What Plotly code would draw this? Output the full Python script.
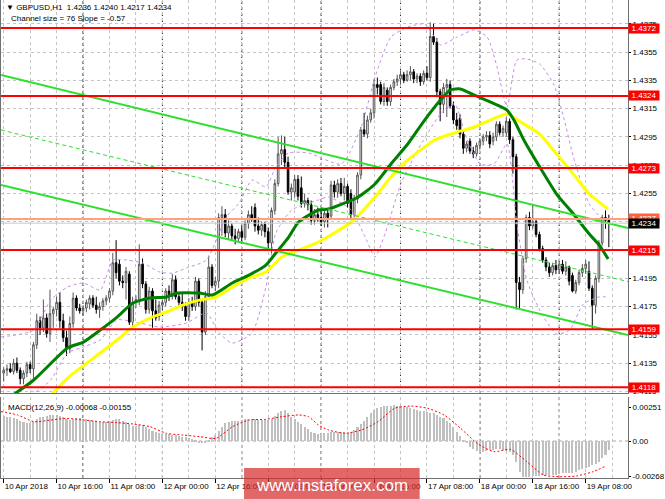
import plotly.graph_objects as go

# ---------------- data ----------------
bar_index = list(range(184))

opens = [
    1.4128, 1.4130, 1.4131, 1.4129, 1.4135, 1.4130, 1.4124, 1.4128, 1.4134, 1.4131,
    1.4148, 1.4165, 1.4160, 1.4167, 1.4156, 1.4170, 1.4173, 1.4178, 1.4165, 1.4153,
    1.4145, 1.4163, 1.4181, 1.4174, 1.4172, 1.4174, 1.4177, 1.4181, 1.4176, 1.4173,
    1.4175, 1.4179, 1.4181, 1.4186, 1.4206, 1.4205, 1.4193, 1.4192, 1.4198, 1.4164,
    1.4178, 1.4180, 1.4205, 1.4191, 1.4173, 1.4186, 1.4172, 1.4168, 1.4176, 1.4178,
    1.4186, 1.4182, 1.4194, 1.4182, 1.4178, 1.4175, 1.4168, 1.4178, 1.4175, 1.4193,
    1.4178, 1.4157, 1.4182, 1.4203, 1.4190, 1.4193, 1.4238, 1.4240, 1.4227, 1.4232,
    1.4225, 1.4223, 1.4228, 1.4224, 1.4234, 1.4240, 1.4245, 1.4232, 1.4229, 1.4233,
    1.4228, 1.4220, 1.4243, 1.4262, 1.4283, 1.4286, 1.4277, 1.4256, 1.4256, 1.4265,
    1.4259, 1.4248, 1.4250, 1.4247, 1.4236, 1.4240, 1.4238, 1.4235, 1.4241, 1.4239,
    1.4261, 1.4256, 1.4262, 1.4255, 1.4260, 1.4255, 1.4240, 1.4251, 1.4268, 1.4300,
    1.4297, 1.4307, 1.4312, 1.4332, 1.4332, 1.4320, 1.4328, 1.4320, 1.4330, 1.4334,
    1.4336, 1.4339, 1.4335, 1.4339, 1.4341, 1.4336, 1.4338, 1.4334, 1.4340, 1.4337,
    1.4366, 1.4362, 1.4327, 1.4318, 1.4330, 1.4332, 1.4317, 1.4307, 1.4308, 1.4297,
    1.4287, 1.4292, 1.4285, 1.4283, 1.4289, 1.4292, 1.4295, 1.4296, 1.4292, 1.4295,
    1.4304, 1.4298, 1.4298, 1.4306, 1.4293, 1.4281, 1.4192, 1.4187, 1.4209, 1.4238,
    1.4232, 1.4235, 1.4226, 1.4216, 1.4208, 1.4203, 1.4199, 1.4204, 1.4201, 1.4205,
    1.4200, 1.4203, 1.4197, 1.4186, 1.4192, 1.4199, 1.4202, 1.4200, 1.4188, 1.4176,
    1.4195, 1.4220, 1.4238, 1.4236,
]
highs = [
    1.4132, 1.4134, 1.4135, 1.4138, 1.4139, 1.4132, 1.4130, 1.4136, 1.4136, 1.4150,
    1.4170, 1.4168, 1.4180, 1.4170, 1.4187, 1.4175, 1.4182, 1.4185, 1.4170, 1.4158,
    1.4168, 1.4185, 1.4183, 1.4177, 1.4176, 1.4180, 1.4183, 1.4183, 1.4182, 1.4178,
    1.4181, 1.4183, 1.4188, 1.4213, 1.4222, 1.4208, 1.4197, 1.4203, 1.4200, 1.4182,
    1.4183, 1.4219, 1.4209, 1.4193, 1.4189, 1.4188, 1.4180, 1.4179, 1.4180, 1.4188,
    1.4190, 1.4198, 1.4197, 1.4185, 1.4184, 1.4178, 1.4181, 1.4182, 1.4196, 1.4195,
    1.4180, 1.4186, 1.4211, 1.4205, 1.4196, 1.4241, 1.4246, 1.4244, 1.4236, 1.4234,
    1.4230, 1.4230, 1.4232, 1.4236, 1.4243, 1.4246, 1.4248, 1.4238, 1.4235, 1.4235,
    1.4231, 1.4245, 1.4265, 1.4295, 1.4296, 1.4295, 1.4281, 1.4262, 1.4268, 1.4268,
    1.4267, 1.4255, 1.4252, 1.4250, 1.4244, 1.4245, 1.4243, 1.4243, 1.4244, 1.4264,
    1.4264, 1.4265, 1.4266, 1.4266, 1.4262, 1.4258, 1.4254, 1.4270, 1.4302, 1.4312,
    1.4310, 1.4315, 1.4336, 1.4337, 1.4334, 1.4333, 1.4330, 1.4332, 1.4336, 1.4339,
    1.4342, 1.4341, 1.4342, 1.4345, 1.4343, 1.4340, 1.4340, 1.4342, 1.4345, 1.4376,
    1.4375, 1.4365, 1.4329, 1.4333, 1.4336, 1.4335, 1.4320, 1.4312, 1.4311, 1.4299,
    1.4292, 1.4294, 1.4288, 1.4291, 1.4294, 1.4297, 1.4299, 1.4299, 1.4298, 1.4306,
    1.4306, 1.4303, 1.4309, 1.4308, 1.4295, 1.4283, 1.4196, 1.4211, 1.4240, 1.4242,
    1.4247, 1.4237, 1.4228, 1.4218, 1.4210, 1.4206, 1.4206, 1.4208, 1.4207, 1.4208,
    1.4207, 1.4204, 1.4199, 1.4194, 1.4201, 1.4205, 1.4208, 1.4207, 1.4190, 1.4197,
    1.4222, 1.4240, 1.4243, 1.4240,
]
lows = [
    1.4122, 1.4126, 1.4128, 1.4127, 1.4128, 1.4120, 1.4120, 1.4125, 1.4128, 1.4122,
    1.4145, 1.4155, 1.4157, 1.4153, 1.4150, 1.4160, 1.4168, 1.4160, 1.4150, 1.4140,
    1.4142, 1.4160, 1.4172, 1.4170, 1.4169, 1.4171, 1.4173, 1.4174, 1.4170, 1.4167,
    1.4172, 1.4176, 1.4178, 1.4183, 1.4195, 1.4190, 1.4188, 1.4180, 1.4162, 1.4160,
    1.4174, 1.4176, 1.4188, 1.4170, 1.4170, 1.4160, 1.4165, 1.4165, 1.4172, 1.4175,
    1.4179, 1.4180, 1.4180, 1.4175, 1.4172, 1.4165, 1.4165, 1.4172, 1.4172, 1.4175,
    1.4144, 1.4155, 1.4180, 1.4188, 1.4186, 1.4188, 1.4225, 1.4224, 1.4222, 1.4222,
    1.4219, 1.4220, 1.4221, 1.4222, 1.4230, 1.4235, 1.4228, 1.4226, 1.4225, 1.4224,
    1.4215, 1.4212, 1.4240, 1.4260, 1.4275, 1.4273, 1.4254, 1.4250, 1.4252, 1.4250,
    1.4245, 1.4245, 1.4243, 1.4233, 1.4233, 1.4235, 1.4232, 1.4231, 1.4231, 1.4237,
    1.4252, 1.4252, 1.4253, 1.4250, 1.4245, 1.4236, 1.4237, 1.4248, 1.4265, 1.4295,
    1.4294, 1.4305, 1.4308, 1.4325, 1.4318, 1.4317, 1.4317, 1.4317, 1.4328, 1.4331,
    1.4332, 1.4333, 1.4334, 1.4335, 1.4333, 1.4333, 1.4331, 1.4332, 1.4335, 1.4334,
    1.4360, 1.4323, 1.4306, 1.4312, 1.4309, 1.4315, 1.4304, 1.4300, 1.4294, 1.4283,
    1.4284, 1.4283, 1.4280, 1.4281, 1.4286, 1.4289, 1.4292, 1.4287, 1.4289, 1.4292,
    1.4296, 1.4295, 1.4295, 1.4290, 1.4269, 1.4173, 1.4174, 1.4184, 1.4206, 1.4229,
    1.4230, 1.4224, 1.4214, 1.4206, 1.4200, 1.4196, 1.4197, 1.4198, 1.4198, 1.4198,
    1.4197, 1.4190, 1.4185, 1.4184, 1.4190, 1.4196, 1.4198, 1.4186, 1.4159, 1.4170,
    1.4192, 1.4218, 1.4230, 1.4217,
]
closes = [
    1.4130, 1.4131, 1.4129, 1.4135, 1.4130, 1.4124, 1.4128, 1.4134, 1.4131, 1.4148,
    1.4165, 1.4160, 1.4167, 1.4156, 1.4170, 1.4173, 1.4178, 1.4165, 1.4153, 1.4145,
    1.4163, 1.4181, 1.4174, 1.4172, 1.4174, 1.4178, 1.4181, 1.4176, 1.4173, 1.4175,
    1.4179, 1.4181, 1.4186, 1.4206, 1.4199, 1.4193, 1.4192, 1.4200, 1.4164, 1.4178,
    1.4180, 1.4205, 1.4191, 1.4173, 1.4186, 1.4172, 1.4167, 1.4176, 1.4178, 1.4186,
    1.4182, 1.4194, 1.4182, 1.4178, 1.4175, 1.4168, 1.4178, 1.4175, 1.4193, 1.4178,
    1.4157, 1.4182, 1.4203, 1.4190, 1.4193, 1.4238, 1.4240, 1.4227, 1.4232, 1.4225,
    1.4223, 1.4228, 1.4224, 1.4234, 1.4240, 1.4237, 1.4232, 1.4229, 1.4233, 1.4228,
    1.4220, 1.4243, 1.4262, 1.4283, 1.4286, 1.4277, 1.4256, 1.4259, 1.4265, 1.4253,
    1.4248, 1.4250, 1.4247, 1.4236, 1.4240, 1.4238, 1.4235, 1.4241, 1.4238, 1.4261,
    1.4256, 1.4262, 1.4255, 1.4260, 1.4248, 1.4240, 1.4251, 1.4268, 1.4300, 1.4297,
    1.4307, 1.4312, 1.4332, 1.4330, 1.4320, 1.4330, 1.4320, 1.4330, 1.4334, 1.4336,
    1.4339, 1.4335, 1.4339, 1.4341, 1.4336, 1.4338, 1.4334, 1.4340, 1.4337, 1.4366,
    1.4362, 1.4327, 1.4318, 1.4330, 1.4332, 1.4317, 1.4307, 1.4303, 1.4297, 1.4287,
    1.4290, 1.4285, 1.4283, 1.4289, 1.4292, 1.4295, 1.4296, 1.4290, 1.4295, 1.4304,
    1.4298, 1.4301, 1.4306, 1.4293, 1.4281, 1.4192, 1.4187, 1.4209, 1.4238, 1.4232,
    1.4235, 1.4226, 1.4216, 1.4208, 1.4203, 1.4199, 1.4204, 1.4201, 1.4205, 1.4200,
    1.4203, 1.4193, 1.4186, 1.4192, 1.4199, 1.4202, 1.4205, 1.4188, 1.4176, 1.4195,
    1.4220, 1.4238, 1.4236, 1.4234,
]

macd_hist = [
    0.00188, 0.00183, 0.00178, 0.00170, 0.00163, 0.00153, 0.00145, 0.00138, 0.00133, 0.00145,
    0.00163, 0.00178, 0.00183, 0.00188, 0.00193, 0.00196, 0.00196, 0.00188, 0.00178, 0.00163,
    0.00158, 0.00163, 0.00170, 0.00170, 0.00168, 0.00163, 0.00158, 0.00153, 0.00148, 0.00143,
    0.00143, 0.00143, 0.00148, 0.00158, 0.00163, 0.00163, 0.00153, 0.00145, 0.00128, 0.00113,
    0.00113, 0.00118, 0.00118, 0.00103, 0.00088, 0.00078, 0.00068, 0.00058, 0.00053, 0.00050,
    0.00050, 0.00048, 0.00043, 0.00038, 0.00033, 0.00028, 0.00020, 0.00013, 0.00003, -0.00008,
    -0.00013, -0.00008, 0.00008, 0.00028, 0.00048, 0.00078, 0.00108, 0.00133, 0.00143, 0.00150,
    0.00153, 0.00153, 0.00158, 0.00163, 0.00168, 0.00168, 0.00163, 0.00158, 0.00158, 0.00158,
    0.00158, 0.00168, 0.00188, 0.00213, 0.00228, 0.00233, 0.00213, 0.00183, 0.00163, 0.00143,
    0.00128, 0.00108, 0.00088, 0.00070, 0.00058, 0.00053, 0.00053, 0.00058, 0.00063, 0.00070,
    0.00070, 0.00070, 0.00068, 0.00065, 0.00063, 0.00065, 0.00083, 0.00103, 0.00128, 0.00153,
    0.00178, 0.00208, 0.00233, 0.00246, 0.00258, 0.00263, 0.00266, 0.00266, 0.00268, 0.00266,
    0.00263, 0.00258, 0.00253, 0.00246, 0.00238, 0.00233, 0.00228, 0.00226, 0.00221, 0.00213,
    0.00208, 0.00196, 0.00183, 0.00170, 0.00153, 0.00133, 0.00103, 0.00070, 0.00038, 0.00008,
    -0.00018, -0.00043, -0.00063, -0.00073, -0.00080, -0.00080, -0.00075, -0.00068, -0.00068, -0.00063,
    -0.00063, -0.00068, -0.00073, -0.00080, -0.00105, -0.00155, -0.00231, -0.00268, -0.00273, -0.00268,
    -0.00263, -0.00263, -0.00263, -0.00258, -0.00256, -0.00256, -0.00256, -0.00253, -0.00248, -0.00243,
    -0.00243, -0.00238, -0.00238, -0.00231, -0.00218, -0.00213, -0.00206, -0.00193, -0.00181, -0.00173,
    -0.00155, -0.00130, -0.00105, -0.00068,
]

signal_x = [-0.8, 4.2, 9.2, 14.2, 19.2, 24.2, 29.2, 34.2, 39.2, 44.2, 49.2, 54.2, 59.2,
            64.2, 69.2, 74.2, 79.2, 84.2, 89.2, 92.2, 95.2, 98.2, 103.2, 108.2, 113.2,
            118.2, 123.2, 128.2, 133.2, 138.2, 143.2, 148.2, 153.2, 158.2, 163.2, 168.2,
            173.2, 178.2, 181.7]
signal_y = [0.00221, 0.00196, 0.00145, 0.00158, 0.00170, 0.00158, 0.00145, 0.00138, 0.00128,
            0.00108, 0.00058, 0.00045, 0.00033, 0.00020, 0.00108, 0.00158, 0.00163, 0.00183,
            0.00196, 0.00183, 0.00120, 0.00083, 0.00058, 0.00083, 0.00145, 0.00246, 0.00263,
            0.00246, 0.00196, 0.00095, -0.00018, -0.00080, -0.00063, -0.00155, -0.00256,
            -0.00268, -0.00263, -0.00231, -0.00193]

ma_green_x = [-0.8, 2.8, 9.1, 19.3, 24.1, 29.2, 34.3, 39.1, 44.2, 49.3, 52.3, 59.2, 63.1,
              69.1, 74.2, 79.3, 82.3, 86.2, 89.2, 95.2, 98.2, 107.2, 112.3, 117.1, 122.2,
              127.3, 132.1, 135.1, 138.1, 142.3, 147.1, 152.2, 154.3, 157.3, 162.1, 167.2,
              172.3, 177.1, 180.1, 182.8]
ma_green_y = [1.4107, 1.41125, 1.41231, 1.41457, 1.41499, 1.41584, 1.41676, 1.41775, 1.41811,
              1.41818, 1.41846, 1.41846, 1.41832, 1.41917, 1.41973, 1.42044, 1.42129, 1.42242,
              1.42348, 1.42433, 1.42440, 1.42525, 1.42617, 1.42758, 1.42900, 1.43069, 1.43211,
              1.43282, 1.43289, 1.43246, 1.43197, 1.43140, 1.43069, 1.42928, 1.42737, 1.42546,
              1.42405, 1.42263, 1.42185, 1.42086]

ma_yellow_x = [9.1, 14.2, 19.3, 29.2, 34.3, 39.1, 44.2, 49.3, 54.1, 59.2, 64.3, 69.1, 74.2,
               79.3, 84.1, 89.2, 95.2, 105.1, 112.3, 117.1, 122.2, 127.3, 130.3, 137.2,
               142.3, 147.1, 152.2, 157.3, 162.1, 167.2, 172.3, 177.1, 180.1, 182.8]
ma_yellow_y = [1.4105, 1.41125, 1.41245, 1.41422, 1.41514, 1.41605, 1.41669, 1.41712, 1.41761,
               1.41796, 1.41818, 1.41888, 1.41952, 1.41994, 1.42101, 1.42150, 1.42207, 1.42348,
               1.42525, 1.42666, 1.42787, 1.42878, 1.42928, 1.42985, 1.43020, 1.43069, 1.43112,
               1.43041, 1.42970, 1.42829, 1.42687, 1.42546, 1.42489, 1.42440]

bb_upper_x = [-0.8, 9.1, 14.2, 19.3, 24.1, 29.2, 33.1, 37.3, 42.1, 47.2, 51.1, 55.3, 61.3,
              67.3, 71.2, 75.1, 79.3, 82.3, 86.2, 92.2, 102.1, 108.1, 112.3, 117.1, 122.2,
              127.3, 130.3, 132.1, 137.2, 142.3, 146.2, 149.2, 152.2, 155.2, 158.2, 162.1,
              166.3, 169.3, 172.3, 177.1, 181.3]
bb_upper_y = [1.41535, 1.41584, 1.41796, 1.41888, 1.41917, 1.41867, 1.42079, 1.42079, 1.42058,
              1.41994, 1.41987, 1.42023, 1.42079, 1.42383, 1.42482, 1.42645, 1.42596, 1.42737,
              1.42836, 1.42836, 1.42758, 1.43020, 1.43373, 1.43656, 1.43727, 1.43748, 1.43656,
              1.43600, 1.43656, 1.43706, 1.43656, 1.43444, 1.43161, 1.43494, 1.43501, 1.43465,
              1.43324, 1.43091, 1.42808, 1.42475, 1.42362]

bb_lower_x = [-0.8, 9.1, 14.2, 19.3, 24.1, 29.2, 34.3, 41.2, 47.2, 55.3, 61.3, 65.2, 69.1,
              75.1, 79.3, 82.3, 87.1, 95.2, 98.2, 105.1, 109.3, 112.3, 115.3, 120.1, 125.2,
              132.1, 136.3, 140.2, 144.1, 148.3, 152.2, 155.2, 158.2, 162.1, 167.2, 171.1,
              175.3, 180.1, 182.8]
bb_lower_y = [1.4110, 1.41139, 1.41231, 1.41422, 1.41464, 1.41514, 1.41655, 1.41634, 1.41605,
              1.41634, 1.41705, 1.41563, 1.41492, 1.41563, 1.41888, 1.42270, 1.42433, 1.42504,
              1.42525, 1.42433, 1.42242, 1.42101, 1.42263, 1.42617, 1.42857, 1.43112, 1.43183,
              1.42928, 1.42758, 1.42758, 1.42900, 1.42334, 1.41938, 1.41726, 1.41556, 1.41584,
              1.41768, 1.41818, 1.41818]

channel_x = [-0.81, 188.8]
channel_upper = [1.43388, 1.42306]
channel_mid = [1.42999, 1.41927]
channel_lower = [1.42610, 1.41549]

levels = [1.4372, 1.4324, 1.4273, 1.4215, 1.4159, 1.4118]
ask_price = 1.4237
bid_price = 1.4234

price_ticks = [1.4115, 1.4135, 1.4155, 1.4175, 1.4195, 1.4215, 1.4235, 1.4255, 1.4275,
               1.4295, 1.4315, 1.4335, 1.4355, 1.4375]
macd_ticks = [0.00251, 0.0, -0.00268]
macd_tick_text = ["0.00251", "0.00", "-0.00268"]

time_tick_bars = [0, 16, 32, 48, 64, 80, 96, 112, 128, 144, 160, 176]
time_tick_labels = ["10 Apr 2018", "10 Apr 16:00", "11 Apr 08:00", "12 Apr 00:00",
                    "12 Apr 16:00", "13 Apr 08:00", "16 Apr 00:00", "16 Apr 16:00",
                    "17 Apr 08:00", "18 Apr 00:00", "18 Apr 16:00", "19 Apr 08:00"]
grid_bars = [0, 8, 16, 24, 32, 40, 48, 56, 64, 72, 80, 88, 96, 104, 112, 120, 128, 136,
             144, 152, 160, 168, 176, 184]
day_separators = [24, 48, 72, 96, 120, 144, 168]

header_line1 = "\u25bc GBPUSD,H1  1.4236 1.4240 1.4217 1.4234"
header_line2 = "Channel size = 76 Slope = -0.57"
macd_label = "MACD(12,26,9) -0.00068 -0.00155"
watermark = "www.instaforex.com"

# ---------------- layout constants ----------------
W, H = 665, 499
PLOT_W, PLOT_H = 632, 478
FONT = "Liberation Sans"
GRID = "#c4c4c4"


def px_x(px):
    return px / PLOT_W


def px_y(py):
    return (PLOT_H - py) / PLOT_H


fig = go.Figure()

fig.add_trace(go.Candlestick(
    x=bar_index, open=opens, high=highs, low=lows, close=closes,
    xaxis="x", yaxis="y",
    increasing=dict(line=dict(color="#555555", width=1), fillcolor="white"),
    decreasing=dict(line=dict(color="#000000", width=1), fillcolor="black"),
    whiskerwidth=0, showlegend=False, hoverinfo="skip",
))

fig.add_trace(go.Scatter(x=bb_upper_x, y=bb_upper_y, mode="lines", xaxis="x", yaxis="y",
                         line=dict(color="#c98be8", width=1, dash="3px,3px", shape="spline",
                                   smoothing=0.6), showlegend=False, hoverinfo="skip"))
fig.add_trace(go.Scatter(x=bb_lower_x, y=bb_lower_y, mode="lines", xaxis="x", yaxis="y",
                         line=dict(color="#c98be8", width=1, dash="3px,3px", shape="spline",
                                   smoothing=0.6), showlegend=False, hoverinfo="skip"))

fig.add_trace(go.Scatter(x=ma_yellow_x, y=ma_yellow_y, mode="lines", xaxis="x", yaxis="y",
                         line=dict(color="#ffff00", width=3, shape="spline", smoothing=0.6),
                         showlegend=False, hoverinfo="skip"))
fig.add_trace(go.Scatter(x=ma_green_x, y=ma_green_y, mode="lines", xaxis="x", yaxis="y",
                         line=dict(color="#008000", width=3, shape="spline", smoothing=0.6),
                         showlegend=False, hoverinfo="skip"))

for ys, dash, width in [(channel_upper, "solid", 2), (channel_lower, "solid", 2),
                        (channel_mid, "4px,3px", 1)]:
    fig.add_trace(go.Scatter(x=channel_x, y=ys, mode="lines", xaxis="x", yaxis="y",
                             line=dict(color="#2ee02e", width=width, dash=dash),
                             showlegend=False, hoverinfo="skip"))

fig.add_trace(go.Bar(x=bar_index, y=macd_hist, xaxis="x2", yaxis="y2", width=0.62,
                     marker=dict(color="#c0c0c0", line=dict(width=0)),
                     showlegend=False, hoverinfo="skip"))
fig.add_trace(go.Scatter(x=signal_x, y=signal_y, mode="lines", xaxis="x2", yaxis="y2",
                         line=dict(color="#ff0000", width=1, dash="2px,2px", shape="spline",
                                   smoothing=0.6), showlegend=False, hoverinfo="skip"))

shapes = []
for d in day_separators:
    shapes.append(dict(type="line", xref="x", yref="paper", x0=d, x1=d, y0=0, y1=1,
                       line=dict(color="#202020", width=1, dash="3px,3px"), layer="between"))
shapes.append(dict(type="line", xref="paper", yref="y2", x0=0, x1=1, y0=0, y1=0,
                   line=dict(color="#a8a8a8", width=1, dash="3px,3px"), layer="between"))
shapes.append(dict(type="line", xref="paper", yref="y", x0=0, x1=1, y0=ask_price, y1=ask_price,
                   line=dict(color="#ffa080", width=2)))
shapes.append(dict(type="line", xref="paper", yref="y", x0=0, x1=1, y0=bid_price, y1=bid_price,
                   line=dict(color="#c8c8c8", width=1)))
for lv in levels:
    shapes.append(dict(type="line", xref="paper", yref="y", x0=0, x1=1, y0=lv, y1=lv,
                       line=dict(color="#ff0000", width=2)))
# watermark box
shapes.append(dict(type="rect", xref="paper", yref="paper",
                   x0=px_x(245), x1=px_x(422), y0=px_y(499), y1=px_y(468),
                   fillcolor="rgba(215,45,45,0.72)", line=dict(width=0), layer="above"))

label_font = dict(family=FONT, size=8, color="white")
annotations = []
for lv in levels:
    annotations.append(dict(xref="paper", yref="y", x=1, y=lv, xanchor="left", yanchor="middle",
                            xshift=0, text=f"{lv:.4f}", showarrow=False, bgcolor="#ff0000",
                            font=label_font, width=30, height=9,
                            borderpad=0, align="center"))
annotations.append(dict(xref="paper", yref="y", x=1, y=ask_price, xanchor="left",
                        yanchor="middle", xshift=0, text=f"{ask_price:.4f}", showarrow=False,
                        bgcolor="#ff6040", font=label_font, width=30, height=9,
                        borderpad=0, align="center"))
annotations.append(dict(xref="paper", yref="y", x=1, y=bid_price, xanchor="left",
                        yanchor="middle", xshift=0, text=f"{bid_price:.4f}", showarrow=False,
                        bgcolor="#000000", font=label_font, width=30, height=9,
                        borderpad=0, align="center"))
annotations.append(dict(xref="paper", yref="paper", x=px_x(3), y=px_y(7.5), xanchor="left",
                        yanchor="middle", text=header_line1, showarrow=False,
                        font=dict(family=FONT, size=8, color="black")))
annotations.append(dict(xref="paper", yref="paper", x=px_x(8), y=px_y(18), xanchor="left",
                        yanchor="middle", text=header_line2, showarrow=False,
                        font=dict(family=FONT, size=8, color="black")))
annotations.append(dict(xref="paper", yref="paper", x=px_x(5), y=px_y(407), xanchor="left",
                        yanchor="middle", text=macd_label, showarrow=False,
                        font=dict(family=FONT, size=8, color="black")))
annotations.append(dict(xref="paper", yref="paper", x=px_x(333.5), y=px_y(485), xanchor="center",
                        yanchor="middle", text=watermark, showarrow=False,
                        font=dict(family=FONT, size=17, color="white")))

axis_font = dict(family=FONT, size=8, color="black")

fig.update_layout(
    width=W, height=H,
    margin=dict(l=0, r=W - PLOT_W, t=0, b=H - PLOT_H),
    paper_bgcolor="white", plot_bgcolor="white",
    showlegend=False,
    bargap=0,
    xaxis=dict(domain=[0, 1], anchor="y", range=[-0.81, 188.8], tickmode="array",
               tickvals=grid_bars, showticklabels=False, ticks="", showgrid=True,
               gridcolor=GRID, griddash="3px,3px", gridwidth=1, zeroline=False,
               showline=True, linecolor="#707070", linewidth=1,
               rangeslider=dict(visible=False), fixedrange=True),
    yaxis=dict(domain=[px_y(393), 1], anchor="x", side="right", range=[1.41139, 1.43918],
               tickmode="array", tickvals=price_ticks, tickformat=".4f", ticks="outside",
               ticklen=2, tickcolor="#000000", tickfont=axis_font, ticklabelstandoff=0,
               showgrid=True, gridcolor=GRID, griddash="3px,3px", zeroline=False,
               showline=True, linecolor="#707070", linewidth=1, mirror=True,
               fixedrange=True),
    xaxis2=dict(domain=[0, 1], anchor="y2", range=[-0.81, 188.8], tickmode="array",
                tickvals=time_tick_bars, ticktext=time_tick_labels, ticks="outside",
                ticklen=4, tickcolor="#000000", ticklabelposition="outside right",
                tickangle=0, tickfont=axis_font, showgrid=True, gridcolor=GRID,
                griddash="3px,3px",
                minor=dict(tickmode="array", tickvals=grid_bars, showgrid=True,
                           gridcolor=GRID, griddash="3px,3px", ticks=""),
                zeroline=False, showline=True, linecolor="#707070", linewidth=1,
                fixedrange=True),
    yaxis2=dict(domain=[0, px_y(397)], anchor="x2", side="right", range=[-0.00278, 0.00331],
                tickmode="array", tickvals=macd_ticks, ticktext=macd_tick_text,
                ticks="outside", ticklen=2, tickcolor="#000000", tickfont=axis_font,
                ticklabelstandoff=0, showgrid=False, zeroline=False, showline=True,
                linecolor="#707070", linewidth=1, mirror=True, fixedrange=True),
    shapes=shapes,
    annotations=annotations,
)

fig.write_html("out.html", config={"displayModeBar": False},
               post_script="document.body.style.margin='0px';document.body.style.overflow='hidden';")
